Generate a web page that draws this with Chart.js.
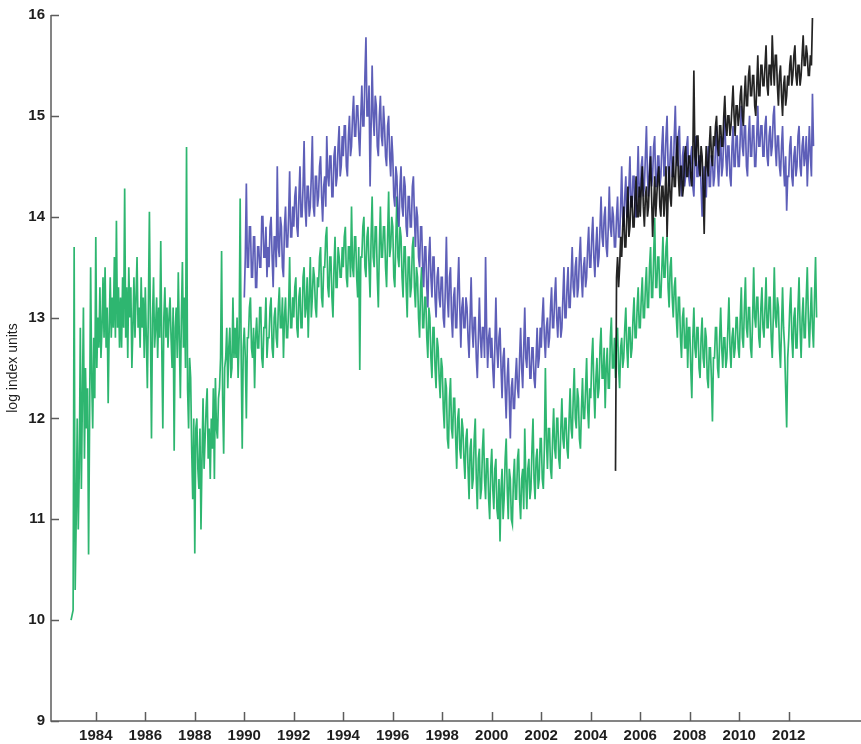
<!DOCTYPE html>
<html>
<head>
<meta charset="utf-8">
<script src="https://cdn.jsdelivr.net/npm/chart.js@4/dist/chart.umd.min.js"></script>
<style>
  html, body { margin: 0; padding: 0; background: #fff; }
  canvas { display: block; }
</style>
</head>
<body>
<canvas id="c" width="861" height="744"></canvas>
<script>
// Half-monthly log index levels (24 readings a year); each series starts at the year given.
const greenStart = 1983.0;
const greenValues = [
  10.0,10.05,10.1,13.7,10.3,11.0,  12.0,10.9,11.5,12.9,11.3,12.2,  13.1,11.6,12.5,11.9,12.3,10.65,  12.0,13.5,12.4,11.9,12.8,12.2,   // 1983
  13.8,12.5,13.0,12.7,13.3,12.6,   12.9,13.4,12.8,13.5,12.7,13.1,  12.15,12.9,13.4,12.8,13.2,12.9,  13.6,12.8,13.96,12.9,13.3,12.7,  // 1984
  13.2,12.7,13.4,12.9,14.28,12.8,  13.3,12.6,13.5,13.0,13.3,12.5,  12.9,13.4,12.8,13.2,13.6,12.9,   13.1,12.7,13.4,12.9,13.2,12.6,   // 1985
  13.3,12.8,12.3,13.1,14.05,12.9,  11.8,13.0,13.4,12.7,12.9,13.2,  12.6,13.1,12.8,13.76,12.7,11.9,  13.0,13.3,12.8,13.1,12.7,13.0,   // 1986
  13.2,12.8,12.5,13.1,11.68,12.9,  13.1,12.6,13.45,12.8,12.2,13.0, 13.55,12.7,13.2,12.5,14.69,12.3, 11.9,12.6,12.4,11.7,11.2,12.0,   // 1987
  10.66,11.9,12.0,11.5,11.3,11.9,  10.9,11.6,12.2,11.5,11.8,12.1,  12.3,11.6,11.9,11.4,12.0,11.7,   12.3,11.4,12.4,11.9,11.8,12.2,   // 1988
  12.3,12.6,13.66,12.2,11.65,12.5, 12.6,12.9,12.3,12.7,12.9,12.4,  12.5,13.2,12.6,12.9,12.6,13.0,   12.4,12.8,14.18,12.6,11.7,12.7,  // 1989
  12.9,12.6,12.0,12.8,12.8,13.1,   13.2,12.7,12.6,12.9,12.3,12.8,  13.0,12.7,12.7,13.1,13.1,12.6,   12.5,12.9,12.9,13.2,12.6,12.8,   // 1990
  12.8,13.1,13.2,12.7,12.6,13.0,   13.1,12.8,12.7,13.1,13.3,12.9,  12.9,13.2,12.6,13.0,13.2,12.8,   12.8,13.1,13.6,12.9,12.9,13.2,   // 1991
  13.0,13.3,13.4,12.9,12.8,13.2,   13.3,12.9,12.9,13.4,13.5,13.0,  13.1,13.4,12.8,13.2,13.6,13.0,   13.2,13.5,13.4,13.1,13.0,13.4,   // 1992
  13.3,13.6,13.7,13.2,13.1,13.5,   13.5,13.8,13.9,13.3,13.2,13.6,  13.6,13.2,13.0,13.5,13.8,13.3,   13.3,13.7,13.6,13.4,13.4,13.7,   // 1993
  13.5,13.8,13.9,13.4,13.3,13.7,   13.7,13.4,14.1,13.5,13.4,13.8,  13.8,13.4,13.2,13.7,12.48,13.6,  13.6,13.9,14.0,13.5,13.4,13.8,   // 1994
  13.9,13.5,13.2,13.8,14.2,13.6,   13.5,13.9,13.9,13.4,13.1,13.7,  14.1,13.6,13.6,13.9,13.9,13.5,   13.3,13.8,14.25,13.6,13.7,14.0,  // 1995
  13.9,13.4,13.3,13.8,14.2,13.6,   13.5,13.9,13.8,13.4,13.2,13.7,  13.7,13.3,13.0,13.6,13.6,13.2,   13.3,13.7,13.8,13.3,13.1,13.5,   // 1996
  13.4,13.0,12.8,13.3,13.5,12.9,   12.9,13.2,13.2,12.8,12.6,13.1,  13.0,12.6,12.4,12.9,12.9,12.5,   12.3,12.8,12.7,12.4,12.2,12.6,   // 1997
  12.5,12.1,11.9,12.4,12.3,11.8,   11.7,12.2,12.4,11.9,11.8,12.2,  12.2,11.8,11.5,12.0,12.1,11.7,   11.6,12.0,11.9,11.6,11.4,11.8,   // 1998
  11.9,11.5,11.2,11.7,11.8,11.3,   11.4,11.8,12.0,11.4,11.1,11.6,  11.7,11.2,11.3,11.7,11.9,11.4,   11.2,11.6,11.6,11.2,11.0,11.5,   // 1999
  11.7,11.3,11.1,11.5,11.6,11.1,   11.0,11.4,10.78,11.3,11.5,11.0, 11.2,11.6,11.8,11.3,11.0,11.5,   11.4,11.0,10.95,11.4,11.6,11.2,  // 2000
  11.2,11.6,11.7,11.2,11.0,11.4,   11.5,11.1,11.9,11.4,11.1,11.5,  11.6,11.2,11.3,11.7,12.0,11.4,   11.2,11.6,11.7,11.3,11.4,11.8,   // 2001
  11.8,11.4,11.3,11.7,12.5,11.8,   11.5,11.9,11.9,11.5,11.4,11.8,  12.1,11.7,11.6,12.0,12.0,11.6,   11.5,11.9,12.2,11.8,11.7,12.0,   // 2002
  12.0,11.7,11.6,12.0,12.3,11.9,   11.8,12.2,12.5,12.0,11.9,12.3,  12.2,11.8,11.7,12.1,12.4,12.0,   12.0,12.3,12.6,12.1,11.9,12.3,   // 2003
  12.2,12.6,12.8,12.3,12.0,12.4,   12.6,12.2,12.3,12.7,12.9,12.4,  12.4,12.7,12.1,12.5,12.7,12.3,   12.3,12.8,13.0,12.5,12.5,12.8,   // 2004
  12.4,12.8,12.9,12.5,12.3,12.7,   12.8,12.5,12.6,12.9,13.1,12.7,  12.5,12.9,12.9,12.6,12.7,13.0,   13.2,12.8,12.8,13.1,13.3,12.9,   // 2005
  12.9,13.2,13.4,13.0,13.0,13.3,   13.5,13.1,13.1,13.5,13.7,13.2,  13.2,13.6,13.99,13.3,13.3,13.6,  13.6,13.2,13.2,13.5,13.8,13.4,   // 2006
  13.4,13.7,13.8,13.3,13.1,13.5,   13.6,13.2,13.0,13.3,13.4,13.0,  12.8,13.2,13.2,12.8,12.6,13.0,   13.1,12.7,12.7,13.0,12.5,12.9,   // 2007
  12.9,12.5,12.2,12.8,13.1,12.7,   12.6,12.9,12.9,12.5,12.4,12.8,  13.0,12.6,12.5,12.9,12.8,12.4,   12.3,12.7,12.7,12.4,11.97,12.6,  // 2008
  12.6,12.9,12.9,12.5,12.4,12.8,   13.1,12.7,12.5,12.8,12.8,12.5,  12.6,12.9,13.2,12.7,12.5,12.8,   12.9,12.6,12.7,13.0,13.0,12.7,   // 2009
  12.6,13.0,13.3,12.8,12.7,13.1,   13.4,12.9,12.8,13.1,13.1,12.7,  12.6,13.0,13.5,13.0,12.9,13.2,   13.2,12.8,12.7,13.1,13.3,12.9,   // 2010
  12.8,13.1,13.4,12.9,12.9,13.2,   13.2,12.8,12.6,13.0,13.5,13.0,  12.9,13.2,13.1,12.7,12.5,12.9,   13.3,12.9,12.7,12.3,11.91,12.6,  // 2011
  12.8,13.1,13.3,12.8,12.6,13.0,   13.1,12.7,12.7,13.1,13.4,12.9,  12.6,13.0,13.2,12.8,12.8,13.2,   13.5,13.0,12.7,13.0,13.3,12.9,   // 2012
  12.7,13.2,13.6,13.0                                                                                                          // 2013
];

const blueStart = 1990.0;
const blueValues = [
  13.2,13.6,14.33,13.5,13.5,13.9,  13.9,13.4,13.4,13.8,13.8,13.3,  13.3,13.7,13.7,13.5,13.5,14.0,   14.0,13.6,13.6,13.9,13.4,13.7,   // 1990
  13.5,13.9,14.0,13.6,13.3,13.8,   13.8,13.5,14.5,13.7,13.6,14.0,  13.9,13.5,13.4,13.9,14.1,13.7,   13.7,14.0,14.45,13.8,13.8,14.1,  // 1991
  13.9,14.2,14.3,13.9,13.8,14.2,   14.5,14.0,14.0,14.3,14.75,14.1, 13.9,14.3,14.3,14.0,14.1,14.4,   14.8,14.1,14.0,14.4,14.4,14.1,   // 1992
  14.2,14.5,14.6,14.2,13.95,14.3,  14.4,14.1,14.8,14.4,14.3,14.6,  14.6,14.2,14.2,14.6,14.7,14.3,   14.4,14.7,14.9,14.4,14.5,14.8,   // 1993
  14.6,14.9,14.9,14.5,14.4,14.8,   15.0,14.6,14.7,15.0,15.2,14.8,  14.8,15.1,15.1,14.8,14.6,15.0,   15.3,14.9,14.9,15.4,15.78,15.0,  // 1994
  15.0,15.3,14.3,14.9,15.5,15.0,   14.8,15.2,15.1,14.7,14.6,15.0,  15.2,14.8,14.7,15.1,14.9,14.6,   14.5,14.9,15.0,14.6,14.4,14.8,   // 1995
  14.6,14.2,14.1,14.5,14.4,14.0,   13.9,14.3,14.5,14.1,14.0,14.4,  14.3,13.9,13.8,14.2,14.2,13.9,   13.9,14.3,14.4,14.0,13.7,14.1,   // 1996
  14.0,13.6,13.5,13.9,13.9,13.5,   13.3,13.7,13.7,13.3,13.1,13.6,  13.8,13.4,13.2,13.6,13.6,13.2,   13.0,13.4,13.5,13.2,13.1,13.4,   // 1997
  13.4,13.0,12.9,13.3,13.8,13.2,   13.0,13.4,13.5,13.0,12.8,13.2,  13.3,12.9,12.9,13.3,13.6,13.1,   12.7,13.1,13.2,12.9,12.9,13.2,   // 1998
  13.1,12.8,12.6,13.0,13.4,12.9,   12.7,13.0,13.0,12.6,12.4,12.8,  13.2,12.8,12.6,12.9,12.9,12.6,   13.6,12.9,12.5,12.8,12.9,12.6,   // 1999
  12.8,12.5,12.3,12.7,13.2,12.7,   12.5,12.8,12.9,12.5,12.2,12.6,  12.7,12.3,12.0,12.4,12.6,12.2,   11.8,12.3,12.4,12.1,12.1,12.4,   // 2000
  12.6,12.3,12.2,12.6,12.9,12.5,   12.3,12.7,13.1,12.6,12.5,12.8,  12.8,12.4,12.4,12.7,12.7,12.4,   12.3,12.6,12.9,12.5,12.6,12.9,   // 2001
  12.7,13.0,13.2,12.8,12.6,12.9,   13.0,12.7,12.8,13.1,13.3,12.9,  12.9,13.2,13.4,13.0,12.8,13.1,   13.1,12.8,12.9,13.2,13.5,13.0,   // 2002
  13.0,13.3,13.5,13.1,13.1,13.4,   13.7,13.3,13.2,13.5,13.6,13.2,  13.3,13.6,13.8,13.4,13.2,13.5,   13.6,13.3,13.4,13.7,13.9,13.5,   // 2003
  13.5,13.8,14.0,13.6,13.4,13.7,   13.9,13.5,13.6,13.9,14.2,13.8,  13.7,14.0,14.1,13.7,13.6,13.9,   14.3,13.9,13.8,14.1,14.0,13.7,   // 2004
  13.7,14.0,14.2,13.8,13.8,14.1,   14.5,14.0,13.9,14.2,14.4,14.0,  14.0,14.3,14.6,14.1,14.1,14.4,   14.4,14.0,14.0,14.3,14.7,14.2,   // 2005
  14.2,14.5,14.6,14.2,14.3,14.6,   14.9,14.4,14.2,14.5,14.7,14.3,  14.4,14.7,14.8,14.3,14.3,14.6,   14.6,14.3,14.4,14.7,14.9,14.4,   // 2006
  14.5,14.8,15.0,14.5,14.3,14.6,   14.8,14.4,14.4,14.8,15.1,14.6,  14.5,14.8,14.9,14.4,14.2,14.6,   14.7,14.3,14.4,14.7,14.8,14.4,   // 2007
  14.3,14.6,14.7,14.3,14.2,14.6,   14.8,14.4,14.4,14.6,14.6,14.3,  14.0,14.4,14.5,14.2,14.2,14.5,   14.7,14.3,14.3,14.6,14.6,14.3,   // 2008
  14.4,14.7,14.9,14.5,14.3,14.6,   14.8,14.4,14.5,14.8,15.0,14.6,  14.4,14.7,14.7,14.4,14.3,14.7,   14.9,14.5,14.5,14.8,14.8,14.5,   // 2009
  14.5,14.8,15.1,14.7,14.6,14.9,   14.9,14.5,14.4,14.8,15.0,14.6,  14.6,14.9,14.9,14.5,14.5,14.8,   15.1,14.7,14.7,14.9,14.9,14.6,   // 2010
  14.6,14.9,15.0,14.6,14.5,14.8,   14.9,14.6,14.7,15.0,15.1,14.7,  14.5,14.8,14.8,14.5,14.4,14.7,   14.9,14.5,14.3,14.6,14.06,14.4,  // 2011
  14.4,14.7,14.8,14.4,14.3,14.6,   14.7,14.4,14.5,14.8,14.9,14.5,  14.4,14.7,14.8,14.5,14.6,14.8,   14.3,14.6,14.9,14.6,14.4,15.22,  // 2012
  14.7                                                                                                                          // 2013
];

const blackStart = 2005.0;
const blackValues = [
  11.48,13.4,13.6,13.3,13.5,13.8,  13.6,13.9,14.1,13.7,13.7,14.0,  14.3,13.8,13.9,14.2,14.2,13.9,   13.9,14.2,14.4,14.0,14.0,14.3,   // 2005
  14.0,14.3,14.5,14.1,13.9,14.2,   14.3,14.0,14.1,14.4,14.6,14.2,  13.8,14.1,14.4,14.0,14.2,14.4,   14.5,14.1,14.0,14.3,14.3,14.0,   // 2006
  14.2,14.5,13.8,14.2,14.5,14.2,   14.1,14.4,14.6,14.3,14.3,14.6,  14.8,14.4,14.2,14.5,14.5,14.2,   14.3,14.6,14.7,14.4,14.4,14.6,   // 2007
  14.6,14.4,14.3,14.6,15.45,14.6,  14.5,14.8,14.8,14.5,14.4,14.7,  14.6,14.3,13.83,14.4,14.7,14.5,  14.4,14.7,14.9,14.6,14.5,14.8,   // 2008
  14.7,14.9,15.0,14.7,14.6,14.9,   14.9,14.7,14.7,15.0,15.2,14.9,  14.8,15.0,15.0,14.8,14.9,15.1,   15.3,15.0,14.8,15.1,15.1,14.9,   // 2009
  15.0,15.2,15.3,15.0,14.9,15.2,   15.4,15.1,15.1,15.4,15.5,15.2,  15.2,15.4,15.4,15.1,15.0,15.3,   15.6,15.2,15.2,15.5,15.5,15.3,   // 2010
  15.3,15.5,15.7,15.3,15.2,15.5,   15.5,15.3,15.8,15.5,15.3,15.6,  15.6,15.3,15.1,15.4,15.5,15.2,   15.0,15.3,15.4,15.1,15.2,15.4,   // 2011
  15.3,15.5,15.6,15.3,15.4,15.6,   15.7,15.4,15.3,15.5,15.5,15.3,  15.4,15.6,15.8,15.5,15.5,15.7,   15.6,15.4,15.4,15.6,15.5,15.97   // 2012
];

const xTickYears = [1984, 1986, 1988, 1990, 1992, 1994, 1996, 1998, 2000,
                    2002, 2004, 2006, 2008, 2010, 2012];
const yTickValues = [9, 10, 11, 12, 13, 14, 15, 16];

// 24 readings per year -> {x: decimal year, y}
function halfMonthly(start, values) {
  return values.map((v, i) => ({ x: start + i / 24, y: v }));
}

const FONT = '"Liberation Sans", Arial, Helvetica, sans-serif';

// Axis lines and inward tick marks, placed through the chart's scales
const axisFrame = {
  id: 'axisFrame',
  afterDatasetsDraw(chart) {
    const { ctx, chartArea: a, scales: { x, y } } = chart;
    ctx.save();
    ctx.strokeStyle = '#5c5c5c';
    ctx.lineWidth = 1.5;
    ctx.beginPath();
    ctx.moveTo(a.left, a.top);
    ctx.lineTo(a.left, a.bottom);
    ctx.lineTo(a.right, a.bottom);
    xTickYears.forEach(t => {
      const px = Math.round(x.getPixelForValue(t)) + 0.5;
      ctx.moveTo(px, a.bottom);
      ctx.lineTo(px, a.bottom - 9);
    });
    yTickValues.forEach(t => {
      const py = Math.round(y.getPixelForValue(t)) + 0.5;
      ctx.moveTo(a.left, py);
      ctx.lineTo(a.left + 8, py);
    });
    ctx.stroke();
    ctx.restore();
  }
};

const lineStyle = {
  pointRadius: 0,
  borderWidth: 1.7,
  borderJoinStyle: 'miter',
  tension: 0,
  fill: false
};

new Chart(document.getElementById('c'), {
  type: 'line',
  data: {
    datasets: [
      Object.assign({ label: 'black', data: halfMonthly(blackStart, blackValues), borderColor: 'rgba(12,12,12,0.9)' }, lineStyle),
      Object.assign({ label: 'blue', data: halfMonthly(blueStart, blueValues), borderColor: 'rgba(58,60,168,0.82)' }, lineStyle),
      Object.assign({ label: 'green', data: halfMonthly(greenStart, greenValues), borderColor: 'rgba(0,166,80,0.82)' }, lineStyle)
    ]
  },
  options: {
    responsive: false,
    animation: false,
    devicePixelRatio: 1,
    layout: { padding: { top: 14, right: 0, bottom: 0, left: 0 } },
    plugins: { legend: { display: false }, tooltip: { enabled: false } },
    scales: {
      x: {
        type: 'linear',
        min: 1982.19,
        max: 2014.92,
        grid: { display: false, drawTicks: false },
        border: { display: false },
        afterBuildTicks: s => { s.ticks = xTickYears.map(v => ({ value: v })); },
        afterFit: s => { s.height = 23; },
        ticks: {
          autoSkip: false,
          maxRotation: 0,
          padding: 6,
          color: '#1e1e1e',
          font: { family: FONT, size: 15, weight: 'bold' },
          callback: v => String(v)
        }
      },
      y: {
        type: 'linear',
        min: 9,
        max: 16,
        grid: { display: false, drawTicks: false },
        border: { display: false },
        afterBuildTicks: s => { s.ticks = yTickValues.map(v => ({ value: v })); },
        afterFit: s => { s.width = 51; },
        ticks: {
          padding: 6,
          color: '#1e1e1e',
          font: { family: FONT, size: 15, weight: 'bold' },
          callback: v => String(v)
        },
        title: {
          display: true,
          text: 'log index units',
          color: '#1e1e1e',
          font: { family: FONT, size: 14 },
          padding: { top: 5, bottom: 0 }
        }
      }
    }
  },
  plugins: [axisFrame]
});
</script>
</body>
</html>
